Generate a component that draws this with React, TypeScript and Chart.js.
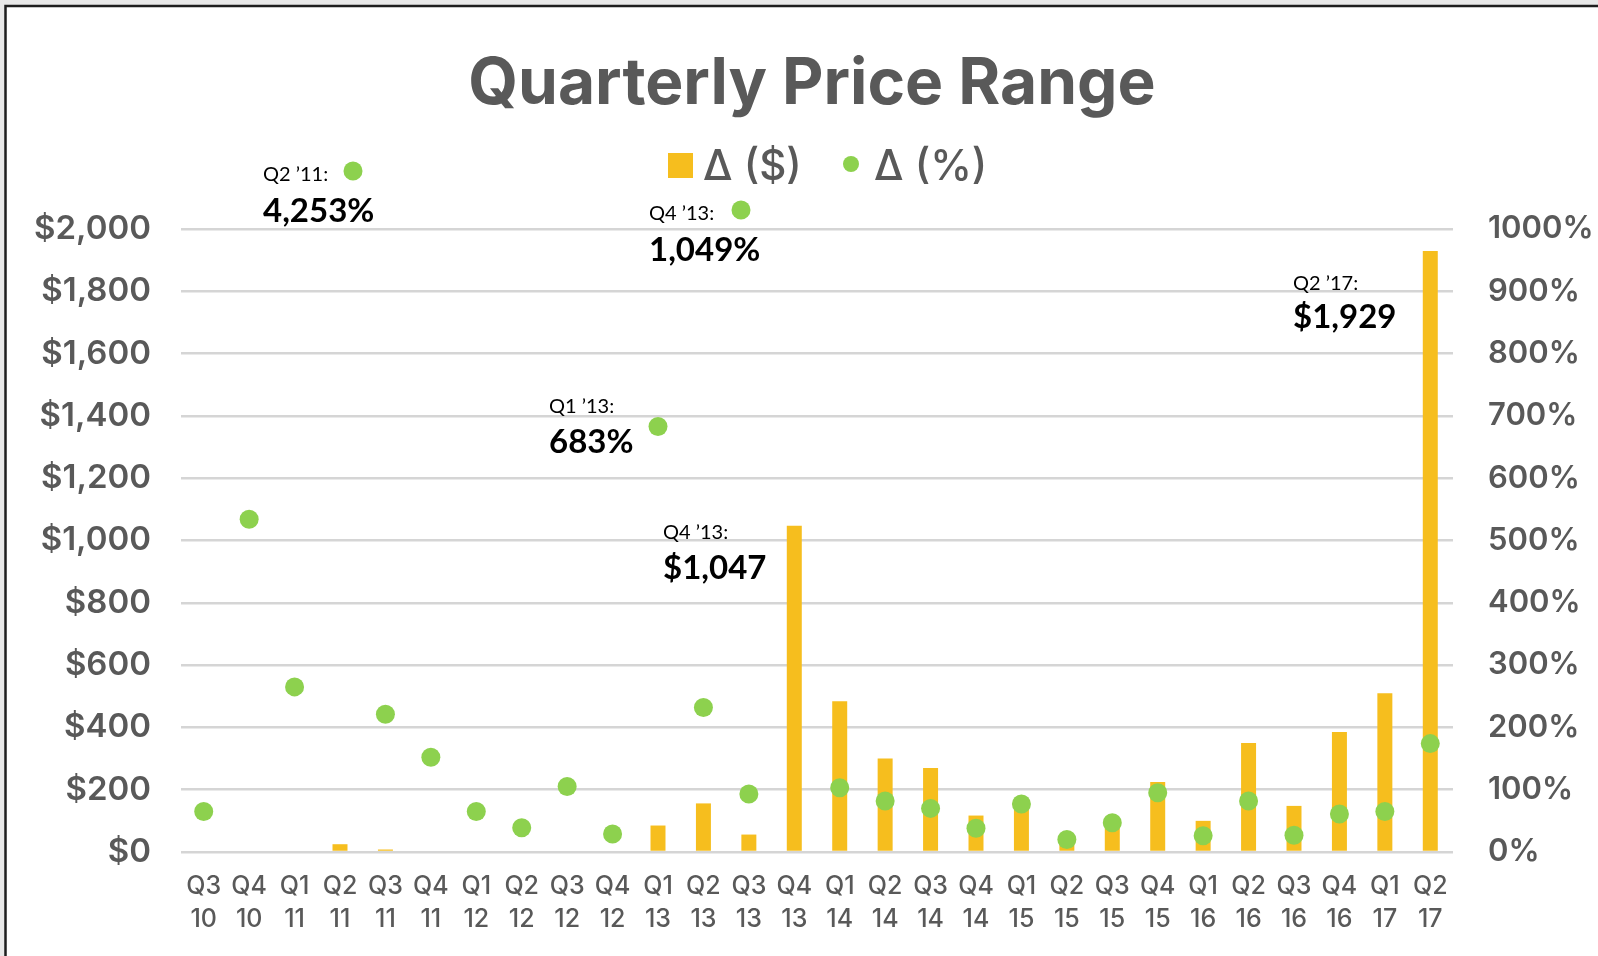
import React, { useEffect, useRef } from 'react';
import { Chart, registerables } from 'chart.js';

Chart.register(...registerables);

// ---------- data ----------
const quarters = ['Q3', 'Q4', 'Q1', 'Q2', 'Q3', 'Q4', 'Q1', 'Q2', 'Q3', 'Q4', 'Q1', 'Q2', 'Q3', 'Q4', 'Q1', 'Q2', 'Q3', 'Q4', 'Q1', 'Q2', 'Q3', 'Q4', 'Q1', 'Q2', 'Q3', 'Q4', 'Q1', 'Q2'];
const years = ['10', '10', '11', '11', '11', '11', '12', '12', '12', '12', '13', '13', '13', '13', '14', '14', '14', '14', '15', '15', '15', '15', '16', '16', '16', '16', '17', '17'];
const deltaDollar = [0, 0, 0, 25, 8, 0, 0, 0, 0, 0, 85, 156, 56, 1047, 484, 300, 270, 117, 150, 30, 93, 225, 100, 350, 148, 385, 510, 1929];
const deltaPct = [65, 534, 265, 4253, 221, 152, 65, 39, 105, 29, 683, 232, 93, 1049, 103, 82, 70, 38, 77, 20, 47, 95, 26, 82, 27, 61, 65, 174];
const dollarTicks = [0, 200, 400, 600, 800, 1000, 1200, 1400, 1600, 1800, 2000];
const pctTicks = [0, 100, 200, 300, 400, 500, 600, 700, 800, 900, 1000];

const titleText = 'Quarterly Price Range';
const legendLabels = ['Δ ($)', 'Δ (%)'];
const calloutSmall = ['Q2 ’11:', 'Q4 ’13:', 'Q1 ’13:', 'Q4 ’13:', 'Q2 ’17:'];
const calloutBig = ['4,253%', '1,049%', '683%', '$1,047', '$1,929'];
const calloutDot = [true, true, false, false, false];

// ---------- styles ----------
const YELLOW = '#F6BE1E';
const GREEN = '#8DD14E';
const GRAY = '#595959';
const AXIS_FONT = 'Inter';
const NOTE_FONT = 'Lato';

// callout layout (x, small baseline, big baseline, dot x, dot y)
const calloutPos = [
  [263, 181, 222, 353, 171],
  [649, 220, 261, 741, 210],
  [549, 413, 453, 0, 0],
  [663, 539, 579, 0, 0],
  [1293, 290, 328, 0, 0],
];

const framePlugin = {
  id: 'framePlugin',
  beforeDraw(chart: any) {
    const { ctx, width, height } = chart;
    ctx.save();
    ctx.fillStyle = '#e8e8e8';
    ctx.fillRect(0, 0, width, height);
    ctx.fillStyle = '#ffffff';
    ctx.fillRect(6, 7, width, height);
    ctx.strokeStyle = '#1e1e1e';
    ctx.lineWidth = 2.5;
    ctx.beginPath();
    ctx.moveTo(5.5, height + 5);
    ctx.lineTo(5.5, 6);
    ctx.lineTo(width + 5, 6);
    ctx.stroke();
    ctx.restore();
  },
  afterDraw(chart: any) {
    const { ctx } = chart;
    ctx.save();
    // title
    ctx.fillStyle = GRAY;
    ctx.font = `700 64px ${AXIS_FONT}`;
    ctx.textAlign = 'center';
    ctx.textBaseline = 'alphabetic';
    ctx.fillText(titleText, 812, 104);

    // legend
    ctx.textAlign = 'left';
    ctx.font = `500 42px ${AXIS_FONT}`;
    ctx.fillStyle = YELLOW;
    ctx.fillRect(668, 153, 25, 25);
    ctx.fillStyle = GRAY;
    ctx.fillText(legendLabels[0], 703, 180);
    ctx.fillStyle = GREEN;
    ctx.beginPath();
    ctx.arc(851, 164, 8, 0, Math.PI * 2);
    ctx.fill();
    ctx.fillStyle = GRAY;
    ctx.fillText(legendLabels[1], 874, 180);

    // callouts
    calloutSmall.forEach((s, i) => {
      const [x, yS, yB, dx, dy] = calloutPos[i];
      ctx.fillStyle = '#000';
      ctx.font = `400 20px ${NOTE_FONT}`;
      ctx.fillText(s, x, yS);
      ctx.font = `700 33px ${NOTE_FONT}`;
      ctx.fillText(calloutBig[i], x, yB);
      if (calloutDot[i]) {
        ctx.fillStyle = GREEN;
        ctx.beginPath();
        ctx.arc(dx, dy, 9.5, 0, Math.PI * 2);
        ctx.fill();
      }
    });
    ctx.restore();
  },
};

export default function App() {
  const ref = useRef<HTMLCanvasElement>(null);

  useEffect(() => {
    if (!ref.current) return;
    const labels = quarters.map((q, i) => [q, years[i]]);
    const chart = new Chart(ref.current, {
      type: 'bar',
      data: {
        labels,
        datasets: [
          {
            type: 'line',
            label: legendLabels[1],
            data: deltaPct,
            yAxisID: 'y1',
            showLine: false,
            pointRadius: 9.5,
            pointBackgroundColor: GREEN,
            pointBorderWidth: 0,
            borderColor: GREEN,
            backgroundColor: GREEN,
            clip: 10,
            order: 0,
          } as any,
          {
            type: 'bar',
            label: legendLabels[0],
            data: deltaDollar,
            yAxisID: 'y',
            backgroundColor: YELLOW,
            barPercentage: 0.33,
            categoryPercentage: 1,
            order: 1,
          },
        ],
      },
      options: {
        responsive: false,
        animation: false,
        layout: { padding: { top: 229, left: 0, right: 0, bottom: 0 } },
        plugins: {
          legend: { display: false },
          title: { display: false },
          tooltip: { enabled: false },
        },
        scales: {
          x: {
            grid: { display: false, drawTicks: false },
            border: { display: false },
            ticks: {
              color: GRAY,
              font: { family: AXIS_FONT, size: 25, weight: '500', lineHeight: 1.32 },
              padding: 18,
              maxRotation: 0,
              autoSkip: false,
            },
            afterFit(scale: any) {
              scale.height = 104;
            },
          },
          y: {
            position: 'left',
            min: 0,
            max: 2000,
            afterBuildTicks(scale: any) {
              scale.ticks = dollarTicks.map((v) => ({ value: v }));
            },
            grid: { color: '#d5d5d5', lineWidth: 2.5, drawTicks: false },
            border: { display: false },
            ticks: {
              color: GRAY,
              padding: 30,
              font: { family: AXIS_FONT, size: 33, weight: '600' },
              callback: (v: any) => '$' + Number(v).toLocaleString('en-US'),
            },
            afterFit(scale: any) {
              scale.width = 181;
            },
          },
          y1: {
            position: 'right',
            min: 0,
            max: 1000,
            afterBuildTicks(scale: any) {
              scale.ticks = pctTicks.map((v) => ({ value: v }));
            },
            grid: { display: false, drawTicks: false },
            border: { display: false },
            ticks: {
              color: GRAY,
              padding: 35,
              font: { family: AXIS_FONT, size: 31, weight: '600' },
              callback: (v: any) => v + '%',
            },
            afterFit(scale: any) {
              scale.width = 145;
            },
          },
        },
      },
      plugins: [framePlugin],
    });
    return () => chart.destroy();
  }, []);

  return (
    <div style={{ position: 'fixed', left: 0, top: 0, width: 1598, height: 956 }}>
      <canvas ref={ref} width={1598} height={956} style={{ display: 'block' }} />
    </div>
  );
}
